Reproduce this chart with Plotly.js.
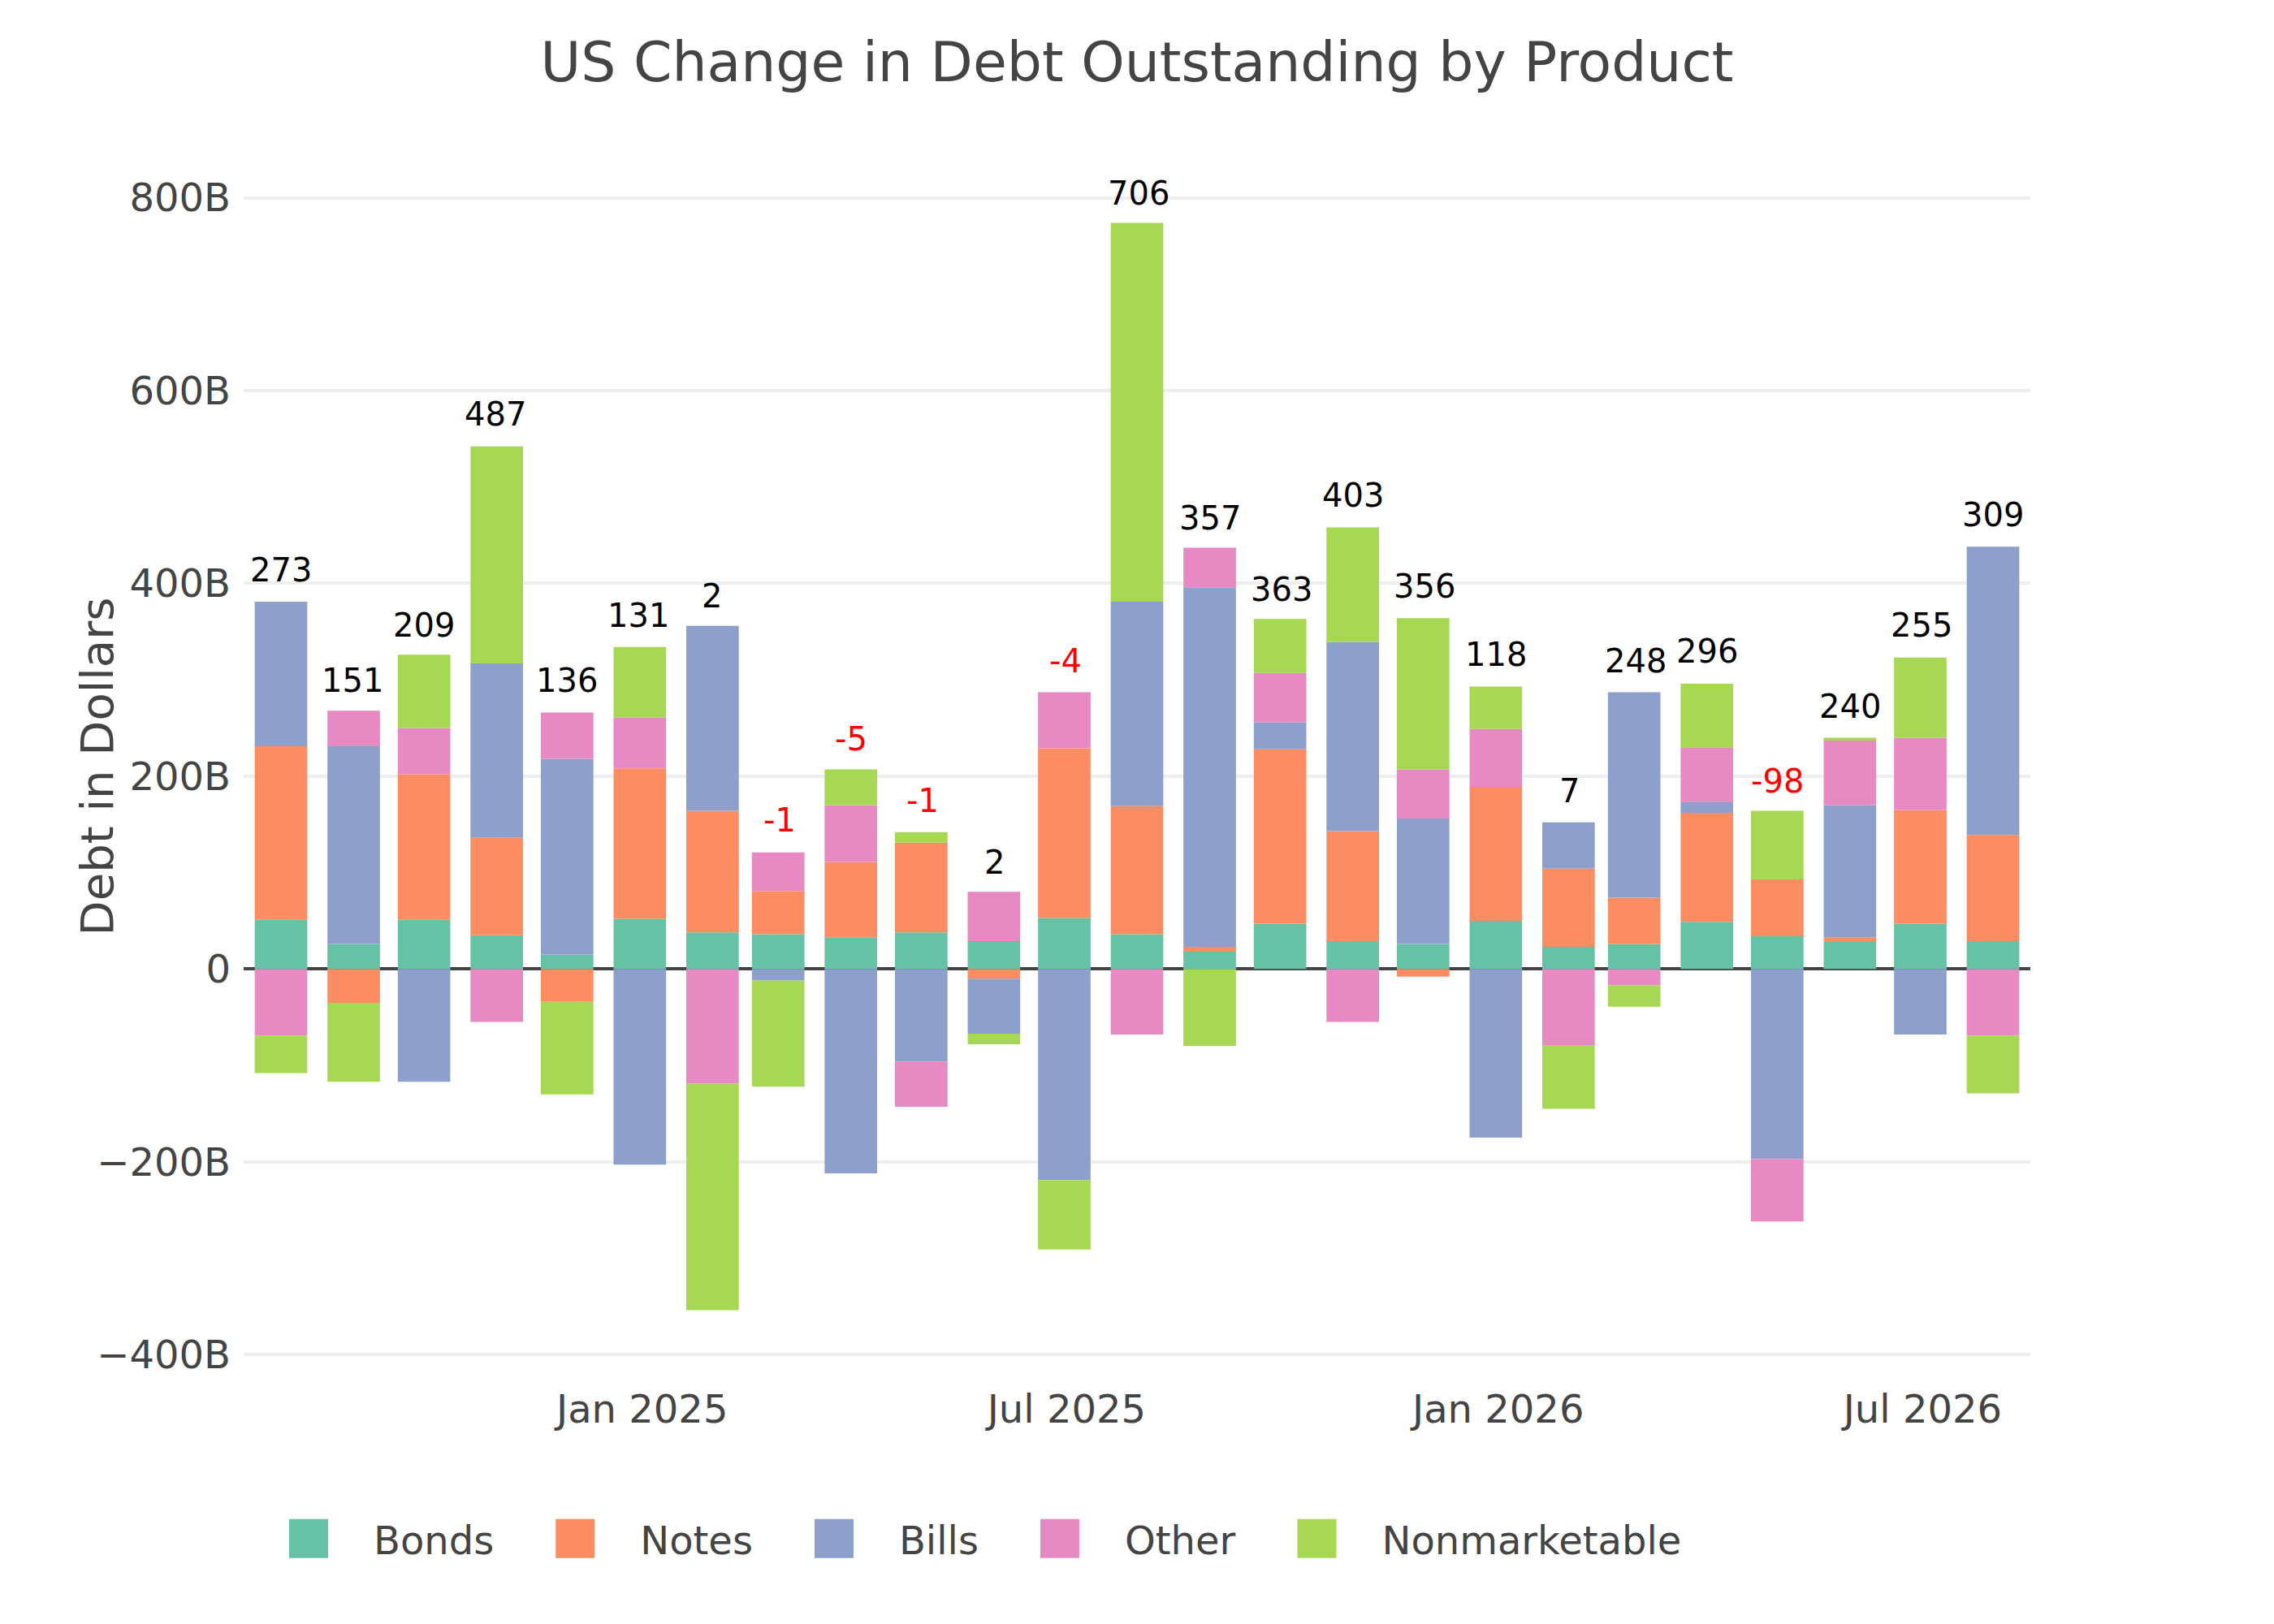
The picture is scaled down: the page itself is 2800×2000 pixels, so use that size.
<!DOCTYPE html>
<html>
<head>
<meta charset="utf-8">
<script src="https://cdn.plot.ly/plotly-3.0.1.min.js"></script>
<style>
  html, body { margin: 0; padding: 0; background: #fff; }
  #wrap { width: 2800px; height: 2000px; overflow: hidden; }
  #chart { width: 700px; height: 500px; transform: scale(4); transform-origin: 0 0; }
</style>
</head>
<body>
<div id="wrap"><div id="chart"></div></div>
<script>
// month-end dates, one bar per month
const months = [
    '2024-07-31', '2024-08-31', '2024-09-30', '2024-10-31', '2024-11-30', '2024-12-31',
    '2025-01-31', '2025-02-28', '2025-03-31', '2025-04-30', '2025-05-31', '2025-06-30',
    '2025-07-31', '2025-08-31', '2025-09-30', '2025-10-31', '2025-11-30', '2025-12-31',
    '2026-01-31', '2026-02-28', '2026-03-31', '2026-04-30', '2026-05-31', '2026-06-30',
    '2026-07-31'
];

// change per product, billions of dollars
const bonds = [51, 26, 51, 35, 15, 52, 38, 36, 33, 38, 29, 53, 36, 18, 47, 29, 26, 50, 23, 26, 49, 34, 28, 47, 29];
const notes = [180, -35, 151, 101, -34, 156, 126, 45, 78, 93, -10, 176, 133, 5, 181, 114, -8, 139, 81, 48, 113, 59, 5, 118, 110];
const bills = [150, 205, -117, 181, 203, -203, 192, -12, -212, -96, -57, -219, 212, 373, 28, 196, 130, -175, 48, 213, 11, -197, 137, -68, 299];
const other = [-69, 37, 48, -55, 48, 53, -119, 40, 59, -47, 51, 58, -68, 41, 51, -55, 51, 60, -79, -17, 57, -65, 67, 75, -69];
const nonmarketable = [-39, -82, 76, 225, -96, 73, -235, -110, 37, 11, -11, -72, 393, -80, 56, 119, 157, 44, -66, -22, 66, 71, 3, 83, -60];

const names = ['Bonds', 'Notes', 'Bills', 'Other', 'Nonmarketable'];
const colors = ['#66c2a5', '#fc8d62', '#8da0cb', '#e78ac3', '#a6d854'];
const series = [bonds, notes, bills, other, nonmarketable];

const traces = series.map((vals, i) => ({
    type: 'bar',
    name: names[i],
    x: months,
    y: vals.map(v => v * 1e9),
    marker: { color: colors[i] }
}));

// net total on top of the positive part of each stack
let annotations = [];
for (let m = 0; m < months.length; m++) {
    let pos = 0;
    let total = 0;
    series.forEach(vals => {
        total += vals[m];
        if (vals[m] > 0) pos += vals[m];
    });
    annotations.push({
        x: months[m],
        y: pos * 1e9,
        text: String(total),
        showarrow: false,
        yanchor: 'bottom',
        yshift: 2,
        font: { size: 10, color: total < 0 ? 'red' : 'black' }
    });
}

const layout = {
    width: 700,
    height: 500,
    font: { family: 'DejaVu Sans', size: 12, color: '#444' },
    title: { text: 'US Change in Debt Outstanding by Product', font: { size: 17 }, x: 0.5 },
    barmode: 'relative',
    margin: { l: 75, r: 75, t: 50, b: 78 },
    xaxis: {
        type: 'date',
        showgrid: false,
        dtick: 'M6',
        tick0: '2025-01-01',
        tickformat: '%b %Y',
        ticklabelstandoff: 3
    },
    yaxis: {
        title: { text: 'Debt in Dollars', font: { size: 14 } },
        exponentformat: 'B',
        dtick: 2e11,
        gridcolor: '#eee',
        zerolinecolor: '#444',
        ticklabelstandoff: 3
    },
    legend: { orientation: 'h', x: 0, y: -0.1 },
    annotations: annotations,
    paper_bgcolor: '#fff',
    plot_bgcolor: '#fff'
};

Plotly.newPlot('chart', traces, layout, { displayModeBar: false, staticPlot: true });
</script>
</body>
</html>
